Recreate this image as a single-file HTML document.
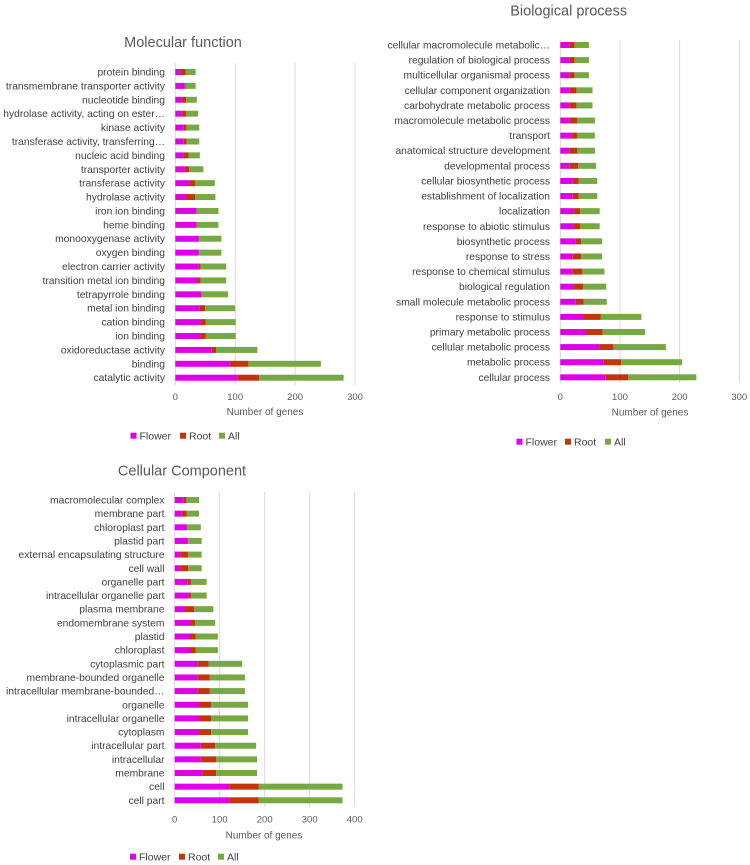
<!DOCTYPE html>
<html><head><meta charset="utf-8"><style>
body{margin:0;background:#fff;}
svg{display:block;font-family:"Liberation Sans",sans-serif;}
</style></head><body>
<svg id="chart" width="750" height="865" viewBox="0 0 750 865" xmlns="http://www.w3.org/2000/svg"></svg>
<script>
const mfCategories=["protein binding","transmembrane transporter activity","nucleotide binding","hydrolase activity, acting on ester…","kinase activity","transferase activity, transferring…","nucleic acid binding","transporter activity","transferase activity","hydrolase activity","iron ion binding","heme binding","monooxygenase activity","oxygen binding","electron carrier activity","transition metal ion binding","tetrapyrrole binding","metal ion binding","cation binding","ion binding","oxidoreductase activity","binding","catalytic activity"];
const mfFlower=[8,15,11,11,14,14,13,16,23,17,35,35,39,39,39,37,43,41,42,42,61,91,104];
const mfRoot=[9,2,7,7,5,5,9,7,10,16,1,1,1,1,3,5,1,9,9,9,7,31,36];
const mfAll=[17,17,18,20,21,21,19,24,33,34,36,36,37,37,43,43,44,50,50,50,69,121,141];
const mfTicks=[0,100,200,300];

const bpCategories=["cellular macromolecule metabolic…","regulation of biological process","multicellular organismal process","cellular component organization","carbohydrate metabolic process","macromolecule metabolic process","transport","anatomical structure development","developmental process","cellular biosynthetic process","establishment of localization","localization","response to abiotic stimulus","biosynthetic process","response to stress","response to chemical stimulus","biological regulation","small molecule metabolic process","response to stimulus","primary metabolic process","cellular metabolic process","metabolic process","cellular process"];
const bpFlower=[15,16,15,15,15,16,19,15,15,21,21,22,22,26,20,20,22,26,38,43,65,73,76];
const bpRoot=[9,8,9,12,12,12,9,13,15,10,10,11,11,9,15,17,16,13,30,28,24,29,38];
const bpAll=[24,24,24,27,27,30,30,30,30,31,31,33,33,35,35,37,39,39,68,71,88,102,114];
const bpTicks=[0,100,200,300];

const ccCategories=["macromolecular complex","membrane part","chloroplast part","plastid part","external encapsulating structure","cell wall","organelle part","intracellular organelle part","plasma membrane","endomembrane system","plastid","chloroplast","cytoplasmic part","membrane-bounded organelle","intracellular membrane-bounded…","organelle","intracellular organelle","cytoplasm","intracellular part","intracellular","membrane","cell","cell part"];
const ccFlower=[20,16,27,29,12,12,29,31,23,35,34,34,50,51,51,54,54,53,58,58,61,121,121];
const ccRoot=[6,11,1,1,18,18,7,5,20,10,13,13,25,27,27,27,27,28,32,34,31,66,66];
const ccAll=[28,27,30,30,30,30,35,35,43,45,49,49,75,78,78,82,82,82,91,91,91,186,186];
const ccTicks=[0,100,200,300,400];

const NS="http://www.w3.org/2000/svg";
const svg=document.getElementById('chart');
const COL={f:"#e000e8",r:"#c0360c",a:"#77a844"};
function mk(tag,attrs,parent){const e=document.createElementNS(NS,tag);for(const k in attrs)e.setAttribute(k,attrs[k]);(parent||svg).appendChild(e);return e;}

function drawChart(cfg,cats,fl,rt,al,ticks){
  const g=mk('g',{});
  
  
  const maxV=ticks[ticks.length-1];
  const xs=v=>cfg.x0+(v/maxV)*(cfg.x1-cfg.x0);
  const ys=i=>cfg.yFirst+i*(cfg.yLast-cfg.yFirst)/(cats.length-1);
  const t=mk('text',{x:cfg.titleX,y:cfg.titleY,'text-anchor':'middle','font-size':14.5,fill:'#595959'},g);
  t.textContent=cfg.title;
  
  
  ticks.forEach(v=>{
    const l=mk('line',{x1:xs(v),x2:xs(v),y1:cfg.gTop,y2:cfg.gBot,stroke:'#d9d9d9','stroke-width':1},g);
    
    
    const tl=mk('text',{x:xs(v),y:cfg.tickY,'text-anchor':'middle','font-size':9.5,fill:'#595959'},g);
    tl.textContent=v;
    
    
  });
  cats.forEach((c,i)=>{
    const y=ys(i);
    const lb=mk('text',{x:cfg.labelX,y:y+3.5,'text-anchor':'end','font-size':10.3,fill:'#404040'},g);
    lb.textContent=c;
    
    
    let acc=0;
    [[fl[i],COL.f,'flower'],[rt[i],COL.r,'root'],[al[i],COL.a,'all']].forEach(([v,col,n])=>{
      const r=mk('rect',{x:xs(acc),y:y-3,width:Math.max(0,xs(acc+v)-xs(acc)),height:6,fill:col},g);
      
      
      acc+=v;
    });
  });
  const at=mk('text',{x:cfg.axTitleX,y:cfg.axTitleY,'text-anchor':'middle','font-size':10,fill:'#595959'},g);
  at.textContent='Number of genes';
  
  
  [['Flower',COL.f,0],['Root',COL.r,1],['All',COL.a,2]].forEach(([n,col,k])=>{
    const lx=cfg.legX[k];
    const s=mk('rect',{x:lx,y:cfg.legY-3,width:6,height:6,fill:col},g);
    
    
    const lt=mk('text',{x:lx+9,y:cfg.legY+3.7,'font-size':10.5,fill:'#404040'},g);
    lt.textContent=n;
    
    
  });
}
drawChart({name:'molecular-function-chart',title:'Molecular function',titleX:183,titleY:47,x0:175.3,x1:355,yFirst:72,yLast:377.7,gTop:63,gBot:385,tickY:400,labelX:165,axTitleX:265,axTitleY:415,legX:[130.5,180,219],legY:435.7},mfCategories,mfFlower,mfRoot,mfAll,mfTicks);
drawChart({name:'biological-process-chart',title:'Biological process',titleX:568.7,titleY:15.5,x0:560.3,x1:739.3,yFirst:45,yLast:377.3,gTop:40,gBot:383,tickY:400,labelX:550,axTitleX:650,axTitleY:415.5,legX:[516.5,565,605],legY:441.7},bpCategories,bpFlower,bpRoot,bpAll,bpTicks);
drawChart({name:'cellular-component-chart',title:'Cellular Component',titleX:182,titleY:475.5,x0:174.7,x1:354.7,yFirst:500,yLast:800.3,gTop:491.7,gBot:806.7,tickY:822.5,labelX:164.5,axTitleX:264,axTitleY:838.5,legX:[130,179,218],legY:856.7},ccCategories,ccFlower,ccRoot,ccAll,ccTicks);
</script>
</body></html>
